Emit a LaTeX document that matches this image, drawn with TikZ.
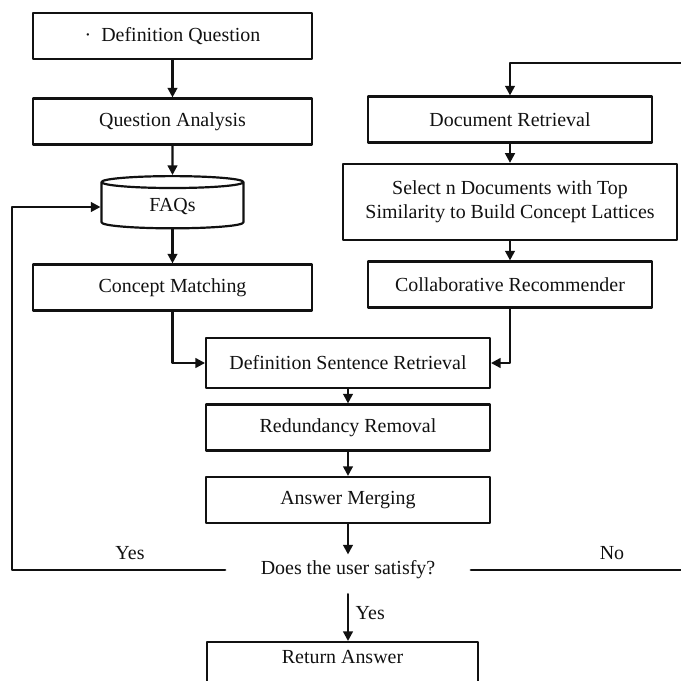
\documentclass[tikz,border=0pt]{standalone}
\usepackage{fontspec}
\setmainfont{Liberation Serif}
\usetikzlibrary{arrows.meta,positioning,shapes.geometric}
\definecolor{ink}{HTML}{111111}
\tikzset{
  >={Triangle[length=1.7mm,width=1.7mm]},
  every picture/.style={line cap=round, line join=round},
  box/.style={draw=ink, rectangle, align=center, font=\normalsize, text=ink,
    line width=1.1pt, minimum width=4.93cm, minimum height=0.81cm, inner sep=2pt},
  wbox/.style={box, minimum width=5.0cm},
  db/.style={cylinder, shape border rotate=90, aspect=0.2, draw=ink, line width=1.1pt,
    minimum width=2.5cm, minimum height=0.92cm, font=\normalsize, text=ink},
  arr/.style={->, draw=ink, line width=1.1pt},
  lbl/.style={font=\normalsize, text=ink},
  ask/.style={lbl, inner xsep=0.62cm, inner ysep=3pt},
}
\begin{document}
\begin{tikzpicture}[x=0.01762cm, y=-0.01762cm]
  \useasboundingbox (0,0) rectangle (681,681);
  \clip (0,0) rectangle (681,681);
  % ---------------- left column ----------------
  \node[box] (dq) at (172.5,36) {·\enspace Definition Question};
  \node[box] (qa) at (172.5,121.5) {Question Analysis};
  \node[db] (faq) at (172.5,207) {FAQs};
  \node[box] (cm) at (172.5,287.5) {Concept Matching};
  % ---------------- right column ----------------
  \node[wbox] (dr) at (510,119.5) {Document Retrieval};
  \node[box, minimum width=5.89cm, minimum height=1.34cm] (sel) at (510,202)
    {Select n Documents with Top\\Similarity to Build Concept Lattices};
  \node[wbox] (cr) at (510,284.5) {Collaborative Recommender};
  % ---------------- merged chain ----------------
  \node[wbox, minimum height=0.88cm] (dsr) at (348,363) {Definition Sentence Retrieval};
  \node[wbox] (rr) at (348,427.5) {Redundancy Removal};
  \node[wbox] (am) at (348,500) {Answer Merging};
  \node[ask] (sat) at (348,570) {Does the user satisfy?};
  \node[box, minimum width=4.78cm, anchor=north, text depth=0.9cm, inner ysep=4pt]
    (ra) at (342.5,641) {Return Answer};
  \coordinate (lturn) at (12,63);
  \coordinate (rturn) at (692,63);
  % arrows
  \draw[arr] (dq) -- (qa);
  \draw[arr] (qa) -- (faq);
  \draw[arr] (faq) -- (cm);
  \draw[arr] (dr) -- (sel);
  \draw[arr] (sel) -- (cr);
  \draw[arr] (cm) |- (dsr);
  \draw[arr] (cr) |- (dsr);
  \draw[arr] (dsr) -- (rr);
  \draw[arr] (rr) -- (am);
  \draw[arr] (am) -- (sat);
  \draw[arr, shorten <=1.5mm] (sat) -- node[right, lbl] (yesd) {Yes} (sat |- ra.north);
  % feedback loops
  \draw[arr] (sat.west) -- (sat.west -| lturn) |- (faq);
  \draw[arr] (sat.east) -- (sat.east -| rturn) -- (rturn) -| (dr);
  \node[lbl] (yesl) at (130,553) {Yes};
  \node[lbl] (nol) at (612,553) {No};
\end{tikzpicture}
\end{document}
